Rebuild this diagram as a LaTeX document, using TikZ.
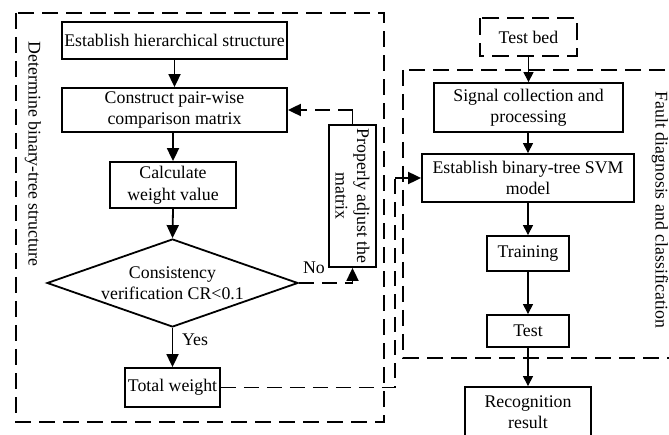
\documentclass[tikz,border=0pt]{standalone}
\usepackage{fontspec}
\setmainfont{Liberation Serif}
\usetikzlibrary{arrows.meta,shapes.geometric}
\begin{document}
\begin{tikzpicture}[x=1pt,y=-1pt,
  font=\fontsize{17.8}{21.5}\selectfont,
  box/.style={draw,line width=1.8pt,inner sep=0pt,align=center},
  grp/.style={draw,line width=2pt,dash pattern=on 16pt off 8pt},
  bigarrow/.style={line width=1.8pt,-{Triangle[length=13pt,width=12pt]}},
  smallarrow/.style={line width=1.1pt,-{Triangle[length=10pt,width=10pt]}},
  dline/.style={line width=1.9pt,dash pattern=on 15pt off 8pt},
]
\useasboundingbox (0,0) rectangle (669,435);
% group frames
\draw[grp] (16,13) rectangle (384,422);
\draw[grp] (403,70) rectangle (690,358);
\node[rotate=-90] (lab1) at (33,154) {Determine binary-tree structure};
\node[rotate=-90] (lab2) at (660,210) {Fault diagnosis and classification};
% left chain
\node[box,minimum width=225pt,minimum height=37pt] (est) at (174.5,40.5) {Establish hierarchical structure};
\node[box,minimum width=225pt,minimum height=44pt] (cons) at (174.5,110) {Construct pair-wise\\comparison matrix};
\node[box,minimum width=126pt,minimum height=46pt] (calc) at (173,185) {Calculate\\weight value};
\node[diamond,draw,line width=1.8pt,minimum width=251pt,minimum height=88pt,inner sep=0pt] (dia) at (172.5,283) {};
\node[align=center] (diat) at (dia.center) {Consistency\\verification CR<0.1};
\node[box,minimum width=95pt,minimum height=39pt] (tot) at (172.5,387.5) {Total weight};
\node[box,minimum width=47pt,minimum height=142pt] (adj) at (352.5,196) {};
\node[rotate=-90,align=center] (adjt) at (adj.center) {Properly adjust the\\matrix};
\node (no) at (314,268) {No};
\node (yes) at (195,340) {Yes};
\draw[bigarrow] (est) -- (cons);
\draw[bigarrow] (calc.north |- cons.south) -- (calc.north);
\draw[bigarrow] (calc.south) -- (dia.north);
\draw[bigarrow] (dia.south) -- (tot.north);
\draw[dline] (dia.east) -- (adj.south |- dia.east) coordinate (k0);
\draw[bigarrow] (k0) -- (adj.south);
\coordinate (k1) at (adj.north |- cons.east);
\draw[line width=1.6pt] (adj.north) -- (k1);
\draw[dline,-{Triangle[length=13pt,width=12pt]}] (k1) -- (cons.east);
% right chain
\node[box,draw=none,minimum width=95pt,minimum height=36pt] (tb) at (528.5,37) {Test bed};
\draw[line width=1.9pt,dash pattern=on 17pt off 8pt] (tb.north west) rectangle (tb.south east);
\node[box,minimum width=189pt,minimum height=49pt] (sig) at (528.5,107.5) {Signal collection and\\processing};
\node[box,minimum width=212pt,minimum height=48pt] (svm) at (528,178) {Establish binary-tree SVM\\model};
\node[box,minimum width=82pt,minimum height=35pt] (tr) at (528,253.5) {Training};
\node[box,minimum width=82pt,minimum height=32pt] (te) at (528,331) {Test};
\node[box,minimum width=126pt,minimum height=50pt] (rec) at (528,412) {Recognition\\result};
\draw[smallarrow] (tb.south) -- (sig.north);
\draw[smallarrow] (sig.south -| svm.north) -- (svm.north);
\draw[smallarrow] (svm) -- (tr);
\draw[smallarrow] (tr) -- (te);
\draw[smallarrow] (te) -- (rec);
\coordinate (c1) at (395,0);
\draw[dline] (tot.east) -| (c1 |- svm.west) coordinate (c2);
\draw[dline,-{Triangle[length=13pt,width=12pt]}] (c2) -- (svm.west);
\end{tikzpicture}
\end{document}
